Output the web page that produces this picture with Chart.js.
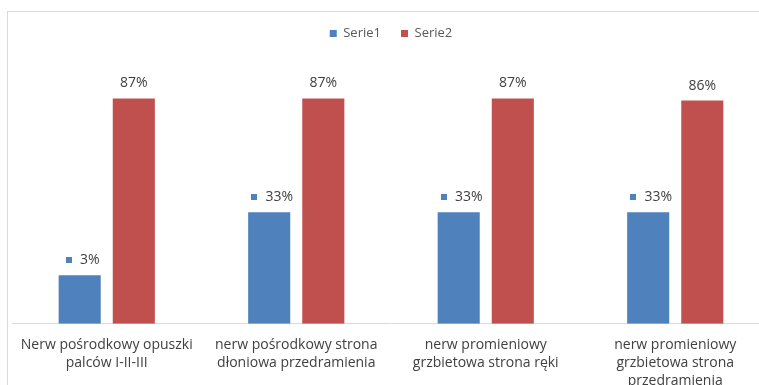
<!DOCTYPE html>
<html>
<head>
<meta charset="utf-8">
<script src="https://cdn.jsdelivr.net/npm/chart.js@4/dist/chart.umd.min.js"></script>
<style>
  html, body { margin: 0; padding: 0; background: #ffffff; }
  #wrap { width: 759px; height: 385px; overflow: hidden; position: relative; }
  #box { width: 784px; height: 415px; position: absolute; left: 0; top: 0; }
</style>
</head>
<body>
<div id="wrap"><div id="box"><canvas id="c" width="784" height="415"></canvas></div></div>
<script>
// Categories (multi-line axis labels)
const categories = [
  ['Nerw pośrodkowy opuszki', 'palców I-II-III'],
  ['nerw pośrodkowy strona', 'dłoniowa przedramienia'],
  ['nerw promieniowy', 'grzbietowa strona ręki'],
  ['nerw promieniowy', 'grzbietowa strona', 'przedramienia']
];
const seriesNames = ['Serie1', 'Serie2'];
const serie1 = [0.03, 0.33, 0.33, 0.33];
const serie2 = [0.87, 0.87, 0.87, 0.86];
const colors = ['#4F81BD', '#C0504D'];

// Value axis range; bars grow from the bottom of the axis
const axisMin = -0.2;
const axisMax = 1.1;

const FONT = "'Open Sans', 'Liberation Sans', sans-serif";

// Outer frame of the chart
const framePlugin = {
  id: 'frame',
  beforeDraw(chart) {
    const ctx = chart.ctx;
    ctx.save();
    ctx.fillStyle = '#ffffff';
    ctx.fillRect(0, 0, chart.width, chart.height);
    ctx.strokeStyle = '#d9d9d9';
    ctx.lineWidth = 1;
    ctx.strokeRect(7.5, 11.5, chart.width + 20, chart.height + 20);
    ctx.restore();
  }
};

// Percentage labels above the bars; Serie1 labels carry a legend key
const valueLabels = {
  id: 'valueLabels',
  afterDatasetsDraw(chart) {
    const ctx = chart.ctx;
    ctx.save();
    ctx.font = '14px ' + FONT;
    ctx.textBaseline = 'middle';
    chart.data.datasets.forEach((ds, i) => {
      const meta = chart.getDatasetMeta(i);
      meta.data.forEach((bar, j) => {
        const txt = Math.round(ds.data[j] * 100) + '%';
        const y = bar.y - 15;
        const tw = ctx.measureText(txt).width;
        if (i === 0) {
          const total = 6 + 8 + tw;
          const x0 = bar.x - total / 2 + 3;
          ctx.fillStyle = ds.backgroundColor;
          ctx.fillRect(Math.round(x0), Math.round(y - 3), 6, 6);
          ctx.fillStyle = '#404040';
          ctx.textAlign = 'left';
          ctx.fillText(txt, x0 + 14, y);
        } else {
          ctx.fillStyle = '#404040';
          ctx.textAlign = 'center';
          ctx.fillText(txt, bar.x, y);
        }
      });
    });
    ctx.restore();
  }
};

new Chart(document.getElementById('c'), {
  type: 'bar',
  data: {
    labels: categories,
    datasets: [
      { label: seriesNames[0], data: serie1, backgroundColor: colors[0], base: axisMin, categoryPercentage: 0.571, barPercentage: 0.778 },
      { label: seriesNames[1], data: serie2, backgroundColor: colors[1], base: axisMin, categoryPercentage: 0.571, barPercentage: 0.778 }
    ]
  },
  options: {
    responsive: false,
    animation: false,
    layout: { padding: { left: 12, right: 14, top: 7, bottom: 13 } },
    plugins: {
      legend: {
        position: 'top',
        labels: {
          boxWidth: 7,
          boxHeight: 7,
          padding: 20,
          color: '#595959',
          font: { family: FONT, size: 13 }
        }
      },
      tooltip: { enabled: false }
    },
    scales: {
      x: {
        grid: { display: false, drawTicks: false },
        border: { display: true, color: '#d9d9d9' },
        ticks: {
          color: '#404040',
          padding: 12,
          maxRotation: 0,
          autoSkip: false,
          font: { family: FONT, size: 14, lineHeight: 1.29 }
        }
      },
      y: {
        display: false,
        min: axisMin,
        max: axisMax
      }
    }
  },
  plugins: [framePlugin, valueLabels]
});
</script>
</body>
</html>
